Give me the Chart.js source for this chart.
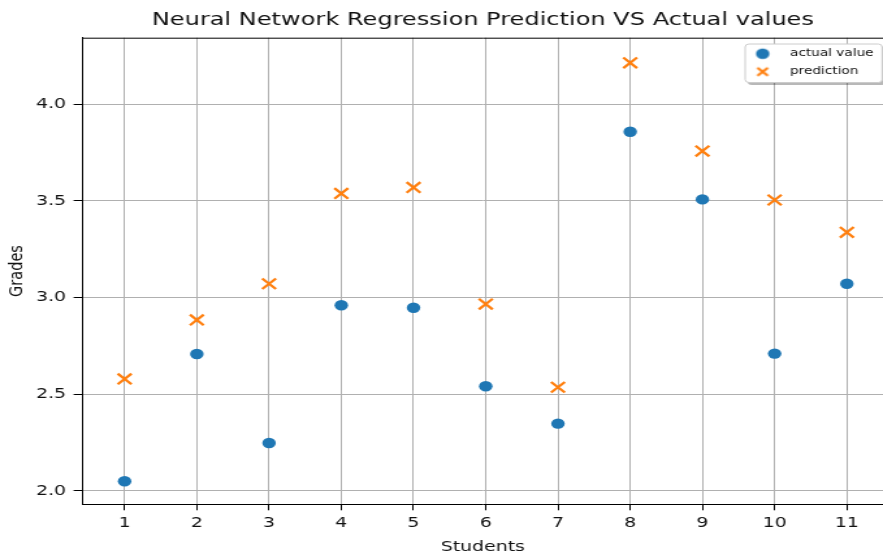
<!DOCTYPE html>
<html><head><meta charset="utf-8">
<script src="https://cdn.jsdelivr.net/npm/chart.js@4.4.1/dist/chart.umd.min.js"></script>
<style>
html,body{margin:0;padding:0;background:#fff;overflow:hidden;width:883px;height:554px;}
#wrap{position:absolute;left:0;top:0;width:679px;height:554px;transform:scaleX(1.3004);transform-origin:0 0;}
canvas{display:block;}
</style></head><body>
<div id="wrap"><canvas id="c" width="679" height="554"></canvas></div>
<script>
// ---- data ----
const students = [1, 2, 3, 4, 5, 6, 7, 8, 9, 10, 11];
const actualValues = [2.050, 2.708, 2.248, 2.960, 2.947, 2.541, 2.348, 3.857, 3.507, 2.710, 3.071];
const predictionValues = [2.579, 2.884, 3.071, 3.538, 3.569, 2.966, 2.536, 4.213, 3.757, 3.504, 3.337];
const yTickValues = [2.0, 2.5, 3.0, 3.5, 4.0];
const seriesNames = ['actual value', 'prediction'];
const chartTitle = 'Neural Network Regression Prediction VS Actual values';
const xAxisTitle = 'Students';
const yAxisTitle = 'Grades';

const BLUE = '#1f77b4', ORANGE = '#ff7f0e';
const FONT = '"DejaVu Sans", sans-serif';
const TXT = '#111';

function makeIcon(kind) {
  const c = document.createElement('canvas');
  c.width = 14; c.height = 14;
  const g = c.getContext('2d');
  if (kind === 'circle') {
    g.fillStyle = BLUE; g.beginPath(); g.arc(7, 7, 5.2, 0, Math.PI * 2); g.fill();
  } else {
    g.strokeStyle = ORANGE; g.lineWidth = 2.2; g.beginPath();
    g.moveTo(3, 3); g.lineTo(11, 11); g.moveTo(11, 3); g.lineTo(3, 11); g.stroke();
  }
  return c;
}
const legendIcons = [makeIcon('circle'), makeIcon('cross')];

function roundRect(ctx, x, y, w, h, r) {
  ctx.beginPath();
  ctx.moveTo(x + r, y); ctx.lineTo(x + w - r, y); ctx.arcTo(x + w, y, x + w, y + r, r);
  ctx.lineTo(x + w, y + h - r); ctx.arcTo(x + w, y + h, x + w - r, y + h, r);
  ctx.lineTo(x + r, y + h); ctx.arcTo(x, y + h, x, y + h - r, r);
  ctx.lineTo(x, y + r); ctx.arcTo(x, y, x + r, y, r); ctx.closePath();
}

const legendPlacer = {
  id: 'legendPlacer',
  afterLayout(chart) {
    const lg = chart.legend, ca = chart.chartArea;
    if (!lg) return;
    const frame = { x: ca.right - 106, y: ca.top + 6.3, w: 105.3, h: 38.5 };
    const w = lg.width, h = lg.height;
    lg.left = frame.x - 9.7; lg.top = frame.y - 3;
    lg.right = lg.left + w; lg.bottom = lg.top + h;
    lg.__frame = frame;
    if (!lg.__wrapped) {
      lg.__wrapped = true;
      const proto = Object.getPrototypeOf(lg);
      lg.draw = function (area) {
        const f = this.__frame, ctx = this.chart.ctx;
        ctx.save();
        ctx.fillStyle = 'rgba(0,0,0,0.28)';
        roundRect(ctx, f.x + 2, f.y + 2.5, f.w, f.h, 3); ctx.fill();
        ctx.fillStyle = '#ffffff';
        roundRect(ctx, f.x, f.y, f.w, f.h, 3); ctx.fill();
        ctx.strokeStyle = '#cccccc'; ctx.lineWidth = 1; ctx.stroke();
        ctx.restore();
        proto.draw.call(this, area);
      };
    }
  }
};

const topSpine = {
  id: 'topSpine',
  afterDraw(chart) {
    const ca = chart.chartArea, ctx = chart.ctx;
    ctx.save(); ctx.strokeStyle = '#000'; ctx.lineWidth = 1;
    ctx.beginPath(); ctx.moveTo(ca.left, ca.top + 0.5); ctx.lineTo(ca.right, ca.top + 0.5); ctx.stroke();
    ctx.restore();
  }
};

new Chart(document.getElementById('c'), {
  type: 'scatter',
  data: {
    datasets: [
      { label: seriesNames[0], data: students.map((s, i) => ({ x: s, y: actualValues[i] })),
        pointStyle: 'circle', pointRadius: 5.2, pointHoverRadius: 5.2, backgroundColor: BLUE, borderColor: BLUE, borderWidth: 0 },
      { label: seriesNames[1], data: students.map((s, i) => ({ x: s, y: predictionValues[i] })),
        pointStyle: 'crossRot', pointRadius: 7.5, pointHoverRadius: 7.5, backgroundColor: ORANGE, borderColor: ORANGE, borderWidth: 2.2 }
    ]
  },
  options: {
    responsive: false, animation: false, devicePixelRatio: 1,
    layout: { padding: 0, autoPadding: false },
    plugins: {
      tooltip: { enabled: false },
      title: { display: true, text: chartTitle, fullSize: false, color: TXT,
        font: { family: FONT, size: 18.5, weight: 'normal', lineHeight: 1.2 }, padding: { top: 9.4, bottom: 6.1 } },
      legend: {
        display: true, position: 'chartArea', align: 'start',
        labels: {
          usePointStyle: true, pointStyleWidth: 31.4, boxHeight: 10.5, padding: 7.5, color: TXT,
          font: { family: FONT, size: 10.5 },
          generateLabels(chart) {
            return chart.data.datasets.map((ds, i) => ({
              text: ds.label, pointStyle: legendIcons[i], fillStyle: ds.backgroundColor,
              strokeStyle: ds.borderColor, lineWidth: 0, hidden: false, datasetIndex: i, fontColor: TXT
            }));
          }
        }
      }
    },
    scales: {
      x: {
        type: 'linear', min: 0.42, max: 11.5,
        afterBuildTicks: (s) => { s.ticks = students.map(v => ({ value: v })); },
        afterFit: (s) => { s.height = 49.7; s.paddingLeft = 0; s.paddingRight = 0; },
        ticks: { color: TXT, font: { family: FONT, size: 14.5 }, padding: 4, callback: (v) => String(v) },
        grid: { color: '#b0b0b0', lineWidth: 1, drawTicks: true, tickLength: 6, tickColor: '#000', tickWidth: 1 },
        border: { display: true, color: '#000', width: 1 },
        title: { display: true, text: xAxisTitle, color: TXT, font: { family: FONT, size: 14.5, lineHeight: 1.0 }, padding: { top: 0, bottom: 0 } }
      },
      y: {
        type: 'linear', min: 1.931, max: 4.343,
        afterBuildTicks: (s) => { s.ticks = yTickValues.map(v => ({ value: v })); },
        afterFit: (s) => { s.width = 63.6; s.paddingTop = 0; s.paddingBottom = 0; },
        ticks: { color: TXT, font: { family: FONT, size: 14.5 }, padding: 5.8, callback: (v) => Number(v).toFixed(1) },
        grid: { color: '#b0b0b0', lineWidth: 1, drawTicks: true, tickLength: 7, tickColor: '#000', tickWidth: 1 },
        border: { display: true, color: '#000', width: 1 },
        title: { display: true, text: yAxisTitle, color: TXT, font: { family: FONT, size: 14.5 }, padding: { top: 5, bottom: 0 } }
      }
    }
  },
  plugins: [legendPlacer, topSpine]
});
</script>
</body></html>
